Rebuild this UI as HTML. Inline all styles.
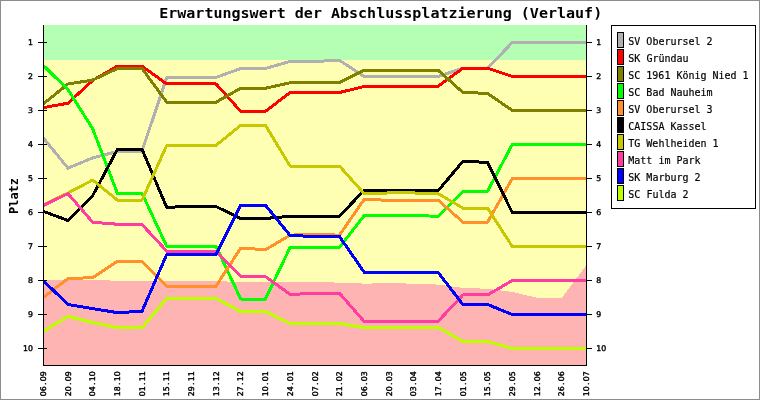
<!DOCTYPE html>
<html lang="de"><head><meta charset="utf-8"><title>Erwartungswert der Abschlussplatzierung (Verlauf)</title>
<style>html,body{margin:0;padding:0;background:#fff}svg{display:block;will-change:transform}text{font-family:'DejaVu Sans Mono','Liberation Mono',monospace;fill:#000}.t text{font-family:"DejaVu Sans","Liberation Sans",sans-serif;font-size:7.8px;stroke:#000;stroke-width:0.4px}</style>
</head><body>
<svg width="760" height="400" viewBox="0 0 760 400">
<rect x="0" y="0" width="760" height="400" fill="#fff"/>
<rect x="0.5" y="0.5" width="759" height="399" fill="none" stroke="#8C8C8C" stroke-width="1" shape-rendering="crispEdges"/>
<g shape-rendering="crispEdges">
<rect x="44" y="25" width="542" height="35" fill="#B4FFB4"/>
<rect x="44" y="60" width="542" height="305" fill="#FFFFB4"/>
<polygon points="44,365 43.30,280.00 67.98,280.00 92.66,280.30 117.35,280.60 142.03,281.10 166.71,281.20 191.39,281.10 216.07,281.20 240.75,281.90 265.44,281.90 290.12,282.00 314.80,282.20 339.48,282.60 364.16,283.60 388.85,283.30 413.53,283.60 438.21,284.60 462.89,287.90 487.57,288.75 512.25,291.90 536.94,297.75 561.62,298.10 586.00,265.60 586,365" fill="#FFB4B4"/>
</g>
<clipPath id="pc"><rect x="44" y="25" width="543" height="340"/></clipPath>
<g clip-path="url(#pc)" fill="none" stroke-width="3" stroke-linejoin="round" shape-rendering="crispEdges">
<polyline stroke="#B0B0B0" points="43.30,137.88 67.98,168.14 92.66,157.94 117.35,151.48 142.03,151.14 166.71,77.36 191.39,77.36 216.07,77.36 240.75,68.52 265.44,68.52 290.12,61.38 314.80,61.38 339.48,60.36 364.16,76.51 388.85,76.51 413.53,76.51 438.21,76.51 462.89,68.18 487.57,68.18 512.25,42.51 536.94,42.51 561.62,42.51 586.30,42.51"/>
<polyline stroke="#FF0000" points="43.30,107.62 67.98,103.20 92.66,80.42 117.35,66.14 142.03,66.14 166.71,83.99 191.39,83.99 216.07,83.99 240.75,111.36 265.44,111.36 290.12,92.49 314.80,92.49 339.48,92.49 364.16,86.54 388.85,86.54 413.53,86.54 438.21,86.20 462.89,68.18 487.57,68.18 512.25,76.51 536.94,76.51 561.62,76.51 586.30,76.51"/>
<polyline stroke="#808000" points="43.30,103.88 67.98,83.99 92.66,80.08 117.35,68.52 142.03,68.52 166.71,102.18 191.39,102.18 216.07,102.18 240.75,88.24 265.44,88.24 290.12,82.80 314.80,82.80 339.48,82.46 364.16,70.22 388.85,70.22 413.53,70.22 438.21,70.22 462.89,92.49 487.57,93.34 512.25,110.51 536.94,110.51 561.62,110.51 586.30,110.51"/>
<polyline stroke="#00FF00" points="43.30,65.46 67.98,89.60 92.66,128.70 117.35,193.30 142.03,193.30 166.71,246.34 191.39,246.34 216.07,246.34 240.75,299.04 265.44,299.04 290.12,247.36 314.80,247.36 339.48,247.36 364.16,215.57 388.85,215.57 413.53,215.57 438.21,216.25 462.89,191.26 487.57,191.26 512.25,144.51 536.94,144.51 561.62,144.51 586.30,144.51"/>
<polyline stroke="#FF902C" points="43.30,297.34 67.98,278.64 92.66,277.62 117.35,261.30 142.03,261.64 166.71,286.12 191.39,286.12 216.07,286.12 240.75,248.04 265.44,249.74 290.12,235.12 314.80,234.44 339.48,235.12 364.16,199.42 388.85,200.27 413.53,200.27 438.21,200.10 462.89,222.20 487.57,222.20 512.25,178.51 536.94,178.51 561.62,178.51 586.30,178.51"/>
<polyline stroke="#000000" points="43.30,211.32 67.98,220.50 92.66,195.68 117.35,149.44 142.03,149.44 166.71,207.24 191.39,206.56 216.07,206.56 240.75,218.46 265.44,218.46 290.12,216.25 314.80,216.25 339.48,216.25 364.16,190.24 388.85,190.24 413.53,190.24 438.21,190.58 462.89,161.34 487.57,162.36 512.25,212.51 536.94,212.51 561.62,212.51 586.30,212.51"/>
<polyline stroke="#C8C800" points="43.30,205.20 67.98,192.96 92.66,180.04 117.35,200.10 142.03,200.10 166.71,145.36 191.39,145.36 216.07,145.36 240.75,125.30 265.44,125.30 290.12,166.10 314.80,166.10 339.48,166.10 364.16,193.64 388.85,192.96 413.53,192.96 438.21,193.64 462.89,208.09 487.57,208.09 512.25,246.51 536.94,246.51 561.62,246.51 586.30,246.51"/>
<polyline stroke="#FF3CA0" points="43.30,205.54 67.98,193.64 92.66,222.20 117.35,224.24 142.03,224.58 166.71,251.10 191.39,251.10 216.07,251.10 240.75,276.60 265.44,276.60 290.12,294.28 314.80,293.60 339.48,293.26 364.16,321.48 388.85,321.48 413.53,321.48 438.21,321.14 462.89,294.96 487.57,294.96 512.25,280.51 536.94,280.51 561.62,280.51 586.30,280.51"/>
<polyline stroke="#0000FF" points="43.30,280.68 67.98,304.48 92.66,308.56 117.35,312.64 142.03,311.28 166.71,254.50 191.39,254.50 216.07,254.50 240.75,205.20 265.44,205.20 290.12,235.46 314.80,236.48 339.48,236.48 364.16,272.18 388.85,272.18 413.53,272.18 438.21,272.52 462.89,304.48 487.57,304.48 512.25,314.51 536.94,314.51 561.62,314.51 586.30,314.51"/>
<polyline stroke="#BEFF00" points="43.30,331.34 67.98,316.38 92.66,322.50 117.35,327.60 142.03,327.60 166.71,298.36 191.39,298.36 216.07,298.36 240.75,311.62 265.44,311.62 290.12,323.52 314.80,323.52 339.48,323.52 364.16,327.60 388.85,327.60 413.53,327.60 438.21,327.26 462.89,341.54 487.57,341.54 512.25,348.51 536.94,348.51 561.62,348.51 586.30,348.51"/>
</g>
<g stroke="#000" stroke-width="1" shape-rendering="crispEdges">
<line x1="43.5" y1="25" x2="43.5" y2="366"/>
<line x1="586.5" y1="25" x2="586.5" y2="366"/>
<line x1="43" y1="365.5" x2="587" y2="365.5"/>
<line x1="38" y1="42.5" x2="47" y2="42.5"/>
<line x1="587" y1="42.5" x2="592" y2="42.5"/>
<line x1="38" y1="76.5" x2="47" y2="76.5"/>
<line x1="587" y1="76.5" x2="592" y2="76.5"/>
<line x1="38" y1="110.5" x2="47" y2="110.5"/>
<line x1="587" y1="110.5" x2="592" y2="110.5"/>
<line x1="38" y1="144.5" x2="47" y2="144.5"/>
<line x1="587" y1="144.5" x2="592" y2="144.5"/>
<line x1="38" y1="178.5" x2="47" y2="178.5"/>
<line x1="587" y1="178.5" x2="592" y2="178.5"/>
<line x1="38" y1="212.5" x2="47" y2="212.5"/>
<line x1="587" y1="212.5" x2="592" y2="212.5"/>
<line x1="38" y1="246.5" x2="47" y2="246.5"/>
<line x1="587" y1="246.5" x2="592" y2="246.5"/>
<line x1="38" y1="280.5" x2="47" y2="280.5"/>
<line x1="587" y1="280.5" x2="592" y2="280.5"/>
<line x1="38" y1="314.5" x2="47" y2="314.5"/>
<line x1="587" y1="314.5" x2="592" y2="314.5"/>
<line x1="38" y1="348.5" x2="47" y2="348.5"/>
<line x1="587" y1="348.5" x2="592" y2="348.5"/>
</g>
<g class="t">
<text x="28.1" y="45.3">1</text>
<text x="596.3" y="45.3">1</text>
<text x="28.1" y="79.3">2</text>
<text x="596.3" y="79.3">2</text>
<text x="28.1" y="113.3">3</text>
<text x="596.3" y="113.3">3</text>
<text x="28.1" y="147.3">4</text>
<text x="596.3" y="147.3">4</text>
<text x="28.1" y="181.3">5</text>
<text x="596.3" y="181.3">5</text>
<text x="28.1" y="215.3">6</text>
<text x="596.3" y="215.3">6</text>
<text x="28.1" y="249.3">7</text>
<text x="596.3" y="249.3">7</text>
<text x="28.1" y="283.3">8</text>
<text x="596.3" y="283.3">8</text>
<text x="28.1" y="317.3">9</text>
<text x="596.3" y="317.3">9</text>
<text x="23.1 28.1" y="351.3">10</text>
<text x="596.3 601.3" y="351.3">10</text>
</g>
<g class="t">
<text transform="translate(46.0,396.2) rotate(-90)" x="0 5 11.2 15 20" y="0">06.09</text>
<text transform="translate(71.0,396.2) rotate(-90)" x="0 5 11.2 15 20" y="0">20.09</text>
<text transform="translate(95.0,396.2) rotate(-90)" x="0 5 11.2 15 20" y="0">04.10</text>
<text transform="translate(120.0,396.2) rotate(-90)" x="0 5 11.2 15 20" y="0">18.10</text>
<text transform="translate(145.0,396.2) rotate(-90)" x="0 5 11.2 15 20" y="0">01.11</text>
<text transform="translate(169.0,396.2) rotate(-90)" x="0 5 11.2 15 20" y="0">15.11</text>
<text transform="translate(194.0,396.2) rotate(-90)" x="0 5 11.2 15 20" y="0">29.11</text>
<text transform="translate(219.0,396.2) rotate(-90)" x="0 5 11.2 15 20" y="0">13.12</text>
<text transform="translate(243.0,396.2) rotate(-90)" x="0 5 11.2 15 20" y="0">27.12</text>
<text transform="translate(268.0,396.2) rotate(-90)" x="0 5 11.2 15 20" y="0">10.01</text>
<text transform="translate(293.0,396.2) rotate(-90)" x="0 5 11.2 15 20" y="0">24.01</text>
<text transform="translate(318.0,396.2) rotate(-90)" x="0 5 11.2 15 20" y="0">07.02</text>
<text transform="translate(342.0,396.2) rotate(-90)" x="0 5 11.2 15 20" y="0">21.02</text>
<text transform="translate(367.0,396.2) rotate(-90)" x="0 5 11.2 15 20" y="0">06.03</text>
<text transform="translate(392.0,396.2) rotate(-90)" x="0 5 11.2 15 20" y="0">20.03</text>
<text transform="translate(416.0,396.2) rotate(-90)" x="0 5 11.2 15 20" y="0">03.04</text>
<text transform="translate(441.0,396.2) rotate(-90)" x="0 5 11.2 15 20" y="0">17.04</text>
<text transform="translate(466.0,396.2) rotate(-90)" x="0 5 11.2 15 20" y="0">01.05</text>
<text transform="translate(490.0,396.2) rotate(-90)" x="0 5 11.2 15 20" y="0">15.05</text>
<text transform="translate(515.0,396.2) rotate(-90)" x="0 5 11.2 15 20" y="0">29.05</text>
<text transform="translate(540.0,396.2) rotate(-90)" x="0 5 11.2 15 20" y="0">12.06</text>
<text transform="translate(564.0,396.2) rotate(-90)" x="0 5 11.2 15 20" y="0">26.06</text>
<text transform="translate(589.0,396.2) rotate(-90)" x="0 5 11.2 15 20" y="0">10.07</text>
</g>
<text transform="translate(17.6,213.9) rotate(-90)" font-size="11.6px" font-weight="bold" textLength="35.8" lengthAdjust="spacingAndGlyphs">Platz</text>
<text x="159.2" y="18" font-size="13.2px" font-weight="bold" textLength="443" lengthAdjust="spacingAndGlyphs">Erwartungswert der Abschlussplatzierung (Verlauf)</text>
<rect x="611.5" y="25.5" width="144" height="183" fill="#fff" stroke="#000" stroke-width="1" shape-rendering="crispEdges"/>
<g font-size="11.3px" stroke="#000" stroke-width="0.2">
<rect x="617.5" y="32.5" width="6" height="15" fill="#B0B0B0" stroke="#000" stroke-width="1" shape-rendering="crispEdges"/>
<text x="628.3" y="44.8" textLength="84.3" lengthAdjust="spacingAndGlyphs">SV Oberursel 2</text>
<rect x="617.5" y="49.5" width="6" height="15" fill="#FF0000" stroke="#000" stroke-width="1" shape-rendering="crispEdges"/>
<text x="628.3" y="61.8" textLength="60.3" lengthAdjust="spacingAndGlyphs">SK Gründau</text>
<rect x="617.5" y="66.5" width="6" height="15" fill="#808000" stroke="#000" stroke-width="1" shape-rendering="crispEdges"/>
<text x="628.3" y="78.8" textLength="120.3" lengthAdjust="spacingAndGlyphs">SC 1961 König Nied 1</text>
<rect x="617.5" y="83.5" width="6" height="15" fill="#00FF00" stroke="#000" stroke-width="1" shape-rendering="crispEdges"/>
<text x="628.3" y="95.8" textLength="84.3" lengthAdjust="spacingAndGlyphs">SC Bad Nauheim</text>
<rect x="617.5" y="100.5" width="6" height="15" fill="#FF902C" stroke="#000" stroke-width="1" shape-rendering="crispEdges"/>
<text x="628.3" y="112.8" textLength="84.3" lengthAdjust="spacingAndGlyphs">SV Oberursel 3</text>
<rect x="617.5" y="117.5" width="6" height="15" fill="#000000" stroke="#000" stroke-width="1" shape-rendering="crispEdges"/>
<text x="628.3" y="129.8" textLength="78.3" lengthAdjust="spacingAndGlyphs">CAISSA Kassel</text>
<rect x="617.5" y="134.5" width="6" height="15" fill="#C8C800" stroke="#000" stroke-width="1" shape-rendering="crispEdges"/>
<text x="628.3" y="146.8" textLength="90.3" lengthAdjust="spacingAndGlyphs">TG Wehlheiden 1</text>
<rect x="617.5" y="151.5" width="6" height="15" fill="#FF3CA0" stroke="#000" stroke-width="1" shape-rendering="crispEdges"/>
<text x="628.3" y="163.8" textLength="72.3" lengthAdjust="spacingAndGlyphs">Matt im Park</text>
<rect x="617.5" y="168.5" width="6" height="15" fill="#0000FF" stroke="#000" stroke-width="1" shape-rendering="crispEdges"/>
<text x="628.3" y="180.8" textLength="72.3" lengthAdjust="spacingAndGlyphs">SK Marburg 2</text>
<rect x="617.5" y="185.5" width="6" height="15" fill="#BEFF00" stroke="#000" stroke-width="1" shape-rendering="crispEdges"/>
<text x="628.3" y="197.8" textLength="60.3" lengthAdjust="spacingAndGlyphs">SC Fulda 2</text>
</g>
</svg>
</body></html>
